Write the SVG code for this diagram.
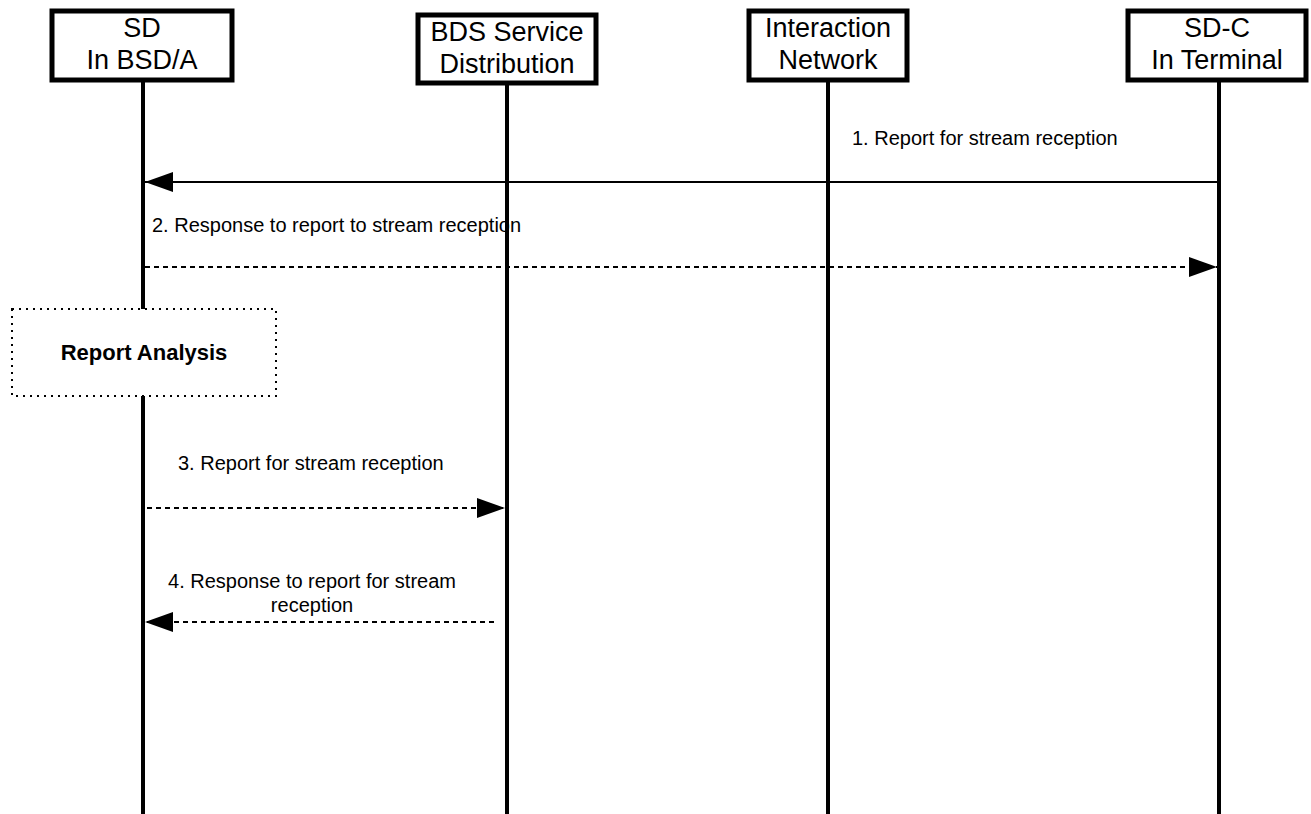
<svg xmlns="http://www.w3.org/2000/svg" width="1311" height="814" viewBox="0 0 1311 814">
<style>
.box{fill:#fff;stroke:#000;stroke-width:5}
.life{stroke:#000;stroke-width:4}
.hdr{font-family:"Liberation Sans",Arial,sans-serif;font-size:27px;text-anchor:middle;fill:#000}
.lbl{font-family:"Liberation Sans",Arial,sans-serif;font-size:20px;fill:#000}
.msg{stroke:#000;stroke-width:2;fill:none}
.dash{stroke-dasharray:5,4}
</style>
<defs>
<marker id="ah" viewBox="0 0 28 20" refX="28" refY="10" markerWidth="28" markerHeight="20" markerUnits="userSpaceOnUse" orient="auto">
<path d="M0,0 L28,10 L0,20 Z" fill="#000"/>
</marker>
</defs>
<g id="lifelines">
<line class="life" x1="143" y1="80" x2="143" y2="814"/>
<line class="life" x1="507" y1="83" x2="507" y2="814"/>
<line class="life" x1="828" y1="80" x2="828" y2="814"/>
<line class="life" x1="1219" y1="80" x2="1219" y2="814"/>
</g>
<g id="node-sd">
<rect class="box" x="52" y="11" width="180" height="69"/>
<text class="hdr" x="142" y="37">SD</text>
<text class="hdr" x="142" y="69">In BSD/A</text>
</g>
<g id="node-bds">
<rect class="box" x="418" y="15" width="178" height="68"/>
<text class="hdr" x="507" y="41">BDS Service</text>
<text class="hdr" x="507" y="73">Distribution</text>
</g>
<g id="node-in">
<rect class="box" x="749" y="11" width="158" height="69"/>
<text class="hdr" x="828" y="37">Interaction</text>
<text class="hdr" x="828" y="69">Network</text>
</g>
<g id="node-sdc">
<rect class="box" x="1128" y="11" width="178" height="69"/>
<text class="hdr" x="1217" y="37">SD-C</text>
<text class="hdr" x="1217" y="69">In Terminal</text>
</g>
<g id="node-analysis">
<rect x="12" y="309" width="264" height="87" fill="#fff" stroke="#000" stroke-width="2" stroke-dasharray="2,5"/>
<text x="144" y="360" font-family="Liberation Sans,Arial,sans-serif" font-size="22" font-weight="bold" text-anchor="middle">Report Analysis</text>
</g>
<g id="connectors">
<line class="msg" x1="1219" y1="182" x2="145" y2="182" marker-end="url(#ah)"/>
<line class="msg dash" x1="145" y1="267" x2="1217" y2="267" marker-end="url(#ah)"/>
<line class="msg dash" x1="147" y1="508" x2="505" y2="508" marker-end="url(#ah)"/>
<line class="msg dash" x1="494" y1="622" x2="145" y2="622" marker-end="url(#ah)"/>
</g>
<g id="labels">
<text class="lbl" x="852" y="145">1. Report for stream reception</text>
<text class="lbl" x="152" y="232">2. Response to report to stream reception</text>
<text class="lbl" x="178" y="470">3. Report for stream reception</text>
<text class="lbl" x="312" y="588" text-anchor="middle">4. Response to report for stream</text>
<text class="lbl" x="312" y="612" text-anchor="middle">reception</text>
</g>
</svg>
